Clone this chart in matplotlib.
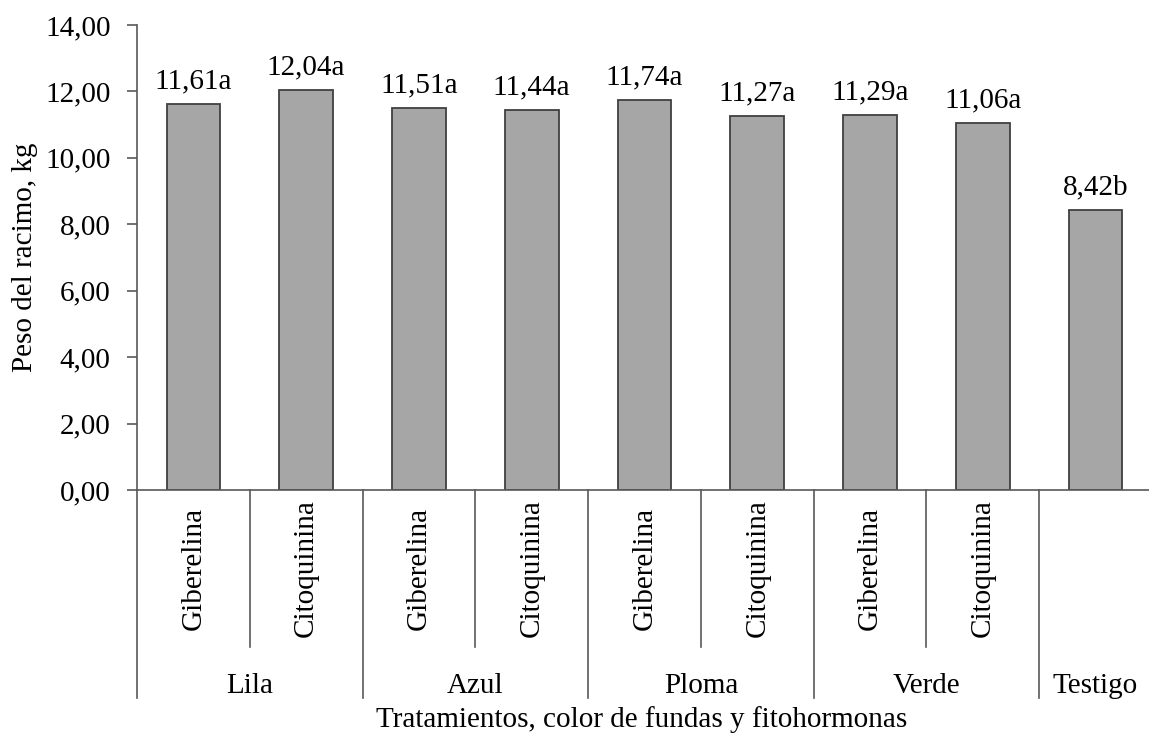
import matplotlib.pyplot as plt
import matplotlib.transforms as mtransforms

# data
hormones = ["Giberelina", "Citoquinina", "Giberelina", "Citoquinina", "Giberelina",
            "Citoquinina", "Giberelina", "Citoquinina", ""]
groups = ["Lila", "Azul", "Ploma", "Verde", "Testigo"]
group_sizes = [2, 2, 2, 2, 1]
weights = [11.61, 12.04, 11.51, 11.44, 11.74, 11.27, 11.29, 11.06, 8.42]
letters = ["a", "a", "a", "a", "a", "a", "a", "a", "b"]

plt.rcParams['font.family'] = ['Liberation Serif', 'DejaVu Serif']
FS = 21
plt.rcParams['font.size'] = FS

W, H = 1149, 735
fig = plt.figure(figsize=(W / 100, H / 100), dpi=100)
ax = fig.add_axes([137 / W, (H - 490) / H, (1152 - 137) / W, (490 - 25) / H])

axis_col = '#595959'
x = list(range(len(weights)))
ax.bar(x, weights, width=0.475, color='#a6a6a6', edgecolor='#404040', linewidth=1.3, zorder=2)

for xi, v, l in zip(x, weights, letters):
    ax.annotate(f"{v:.2f}".replace('.', ',') + l, (xi, v), xytext=(0, 7),
                textcoords='offset points', ha='center', va='bottom', fontsize=FS)

ax.set_xlim(-0.5, len(weights) - 0.5)
ax.set_ylim(0, 14)
ax.set_yticks(range(0, 15, 2))
ax.set_yticklabels([f"{t:.2f}".replace('.', ',') for t in range(0, 15, 2)])
ax.tick_params(axis='y', length=7, width=1.2, color=axis_col, pad=12)
ax.set_xticks([])
for s in ['top', 'right']:
    ax.spines[s].set_visible(False)
for s in ['left', 'bottom']:
    ax.spines[s].set_color(axis_col)
    ax.spines[s].set_linewidth(1.2)

ax.set_ylabel("Peso del racimo, kg", fontsize=FS, labelpad=5)

# hierarchical category axis
trans = mtransforms.blended_transform_factory(ax.transData, ax.transAxes)
ax_h = 465.0
minor_y = -(647 - 490) / ax_h
major_y = -(698 - 490) / ax_h

for xi, name in zip(x, hormones):
    if name:
        ax.text(xi, -(568 - 490) / ax_h, name, transform=trans, rotation=90,
                ha='center', va='center', fontsize=FS)

start = 0
for g, n in zip(groups, group_sizes):
    left = start - 0.5
    ax.plot([left, left], [0, major_y], transform=trans, color=axis_col, lw=1.2, clip_on=False)
    for k in range(1, n):
        ax.plot([left + k, left + k], [0, minor_y], transform=trans, color=axis_col,
                lw=1.2, clip_on=False)
    ax.text(start + (n - 1) / 2, -(693 - 490) / ax_h, g, transform=trans,
            ha='center', va='baseline', fontsize=FS)
    start += n
ax.plot([start - 0.5, start - 0.5], [0, major_y], transform=trans, color=axis_col, lw=1.2, clip_on=False)

fig.text((137 + 1147) / 2 / W, 1 - 727 / H, "Tratamientos, color de fundas y fitohormonas",
         ha='center', va='baseline', fontsize=FS)

fig.savefig("out.png", dpi=100)
